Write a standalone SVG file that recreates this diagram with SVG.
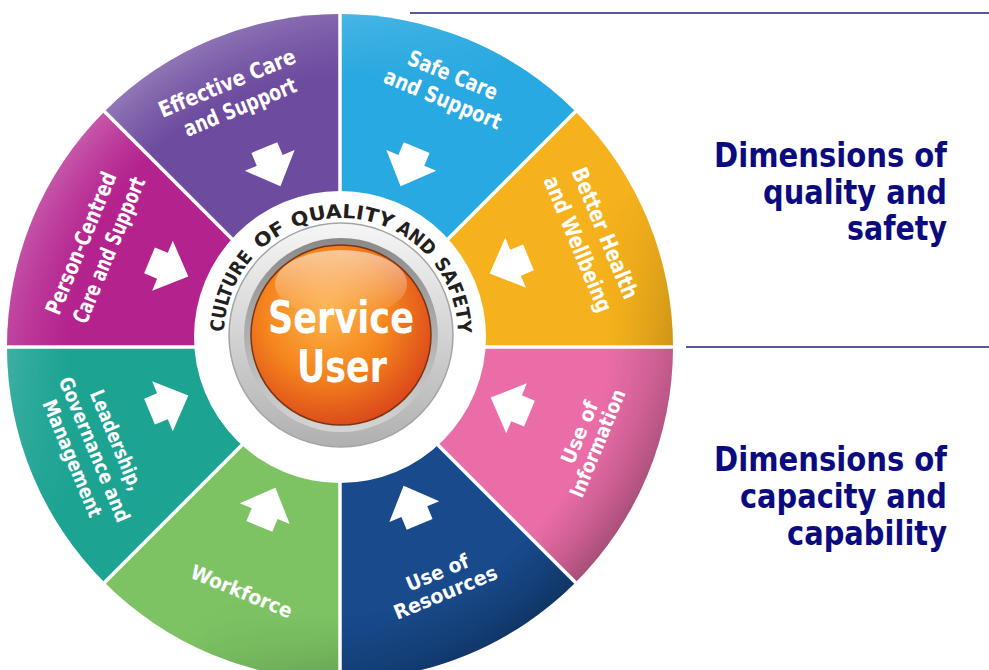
<svg xmlns="http://www.w3.org/2000/svg" xmlns:xlink="http://www.w3.org/1999/xlink" width="989" height="670" viewBox="0 0 989 670">
<style>
.lbl{font-family:'DejaVu Sans Condensed','Liberation Sans Narrow','Liberation Sans',sans-serif;font-stretch:condensed;font-weight:bold;fill:#ffffff;text-anchor:middle}
.top{font-size:22px}
.bot{font-size:20px}
.cul{font-family:'DejaVu Sans Condensed','Liberation Sans Narrow','Liberation Sans',sans-serif;font-stretch:condensed;font-weight:bold;font-size:19px;fill:#231F20}
.side{font-family:'DejaVu Sans','Verdana',sans-serif;font-weight:bold;font-size:33px;fill:#0B0B80;text-anchor:end}
.rule{stroke:#1F1F75;stroke-width:1.5}
.div{stroke:#ffffff;stroke-width:3.5}
.arr{fill:#ffffff}
</style>
<defs>
<path id="arrow" d="M-14,-20 L14,-20 L14,-6 L27,-6 L0,22 L-27,-6 L-14,-6 Z"/>
<linearGradient id="rimLD" x1="0" y1="0" x2="1" y2="1">
<stop offset="0" stop-color="#ffffff" stop-opacity="0.38"/>
<stop offset="0.42" stop-color="#ffffff" stop-opacity="0"/>
<stop offset="0.6" stop-color="#000000" stop-opacity="0"/>
<stop offset="1" stop-color="#000000" stop-opacity="0.45"/>
</linearGradient>
<radialGradient id="rimFade" cx="0.5" cy="0.5" r="0.5">
<stop offset="0.8" stop-color="#000000"/>
<stop offset="1" stop-color="#ffffff"/>
</radialGradient>
<mask id="rimMask"><circle cx="340" cy="347" r="334" fill="url(#rimFade)"/></mask>
<linearGradient id="silver" x1="0" y1="0" x2="0" y2="1">
<stop offset="0" stop-color="#f6f6f6"/>
<stop offset="1" stop-color="#b0b0b0"/>
</linearGradient>
<linearGradient id="silver2" x1="0" y1="0" x2="0" y2="1">
<stop offset="0" stop-color="#8a8a8a"/>
<stop offset="1" stop-color="#d4d4d4"/>
</linearGradient>
<radialGradient id="ball" cx="0.42" cy="0.38" r="0.68">
<stop offset="0" stop-color="#FDB24A"/>
<stop offset="0.5" stop-color="#F5861E"/>
<stop offset="1" stop-color="#D8401A"/>
</radialGradient>
<linearGradient id="gloss" x1="0" y1="0" x2="0" y2="1">
<stop offset="0" stop-color="#ffffff" stop-opacity="0.55"/>
<stop offset="1" stop-color="#ffffff" stop-opacity="0"/>
</linearGradient>
<path id="culturePath" d="M224,335 A117,117 0 0 1 458,335"/>
</defs>

<g id="wheel">
<g id="seg-effective">
<path d="M340,347 L104.5,111.5 A333,333 0 0 1 340,14 Z" fill="#6D4B9F"/>
</g>
<g id="seg-safe">
<path d="M340,347 L340,14 A333,333 0 0 1 575.5,111.5 Z" fill="#29A9E1"/>
</g>
<g id="seg-better">
<path d="M340,347 L575.5,111.5 A333,333 0 0 1 673,347 Z" fill="#F6B21C"/>
</g>
<g id="seg-information">
<path d="M340,347 L673,347 A333,333 0 0 1 575.5,582.5 Z" fill="#EA6DA8"/>
</g>
<g id="seg-resources">
<path d="M340,347 L575.5,582.5 A333,333 0 0 1 340,680 Z" fill="#184A8C"/>
</g>
<g id="seg-workforce">
<path d="M340,347 L340,680 A333,333 0 0 1 104.5,582.5 Z" fill="#7DC364"/>
</g>
<g id="seg-leadership">
<path d="M340,347 L104.5,582.5 A333,333 0 0 1 7,347 Z" fill="#1CA392"/>
</g>
<g id="seg-person">
<path d="M340,347 L7,347 A333,333 0 0 1 104.5,111.5 Z" fill="#B4228E"/>
</g>
<circle cx="340" cy="347" r="333" fill="url(#rimLD)" mask="url(#rimMask)"/>
<g id="dividers">
<line class="div" x1="340" y1="347" x2="340" y2="10"/>
<line class="div" x1="340" y1="347" x2="578" y2="109"/>
<line class="div" x1="340" y1="347" x2="676" y2="347"/>
<line class="div" x1="340" y1="347" x2="578" y2="585"/>
<line class="div" x1="340" y1="347" x2="340" y2="684"/>
<line class="div" x1="340" y1="347" x2="102" y2="585"/>
<line class="div" x1="340" y1="347" x2="4" y2="347"/>
<line class="div" x1="340" y1="347" x2="102" y2="109"/>
</g>
<circle cx="340" cy="337" r="146" fill="#ffffff"/>
</g>

<g id="labels">
<g id="label-effective">
<text class="lbl top" transform="translate(230,90) rotate(-22.5)" textLength="146" lengthAdjust="spacingAndGlyphs">Effective Care</text>
<text class="lbl top" transform="translate(243,114) rotate(-22.5)" textLength="120" lengthAdjust="spacingAndGlyphs">and Support</text>
</g>
<g id="label-safe">
<text class="lbl top" transform="translate(450,82) rotate(22.5)" textLength="95" lengthAdjust="spacingAndGlyphs">Safe Care</text>
<text class="lbl top" transform="translate(440,106) rotate(22.5)" textLength="125" lengthAdjust="spacingAndGlyphs">and Support</text>
</g>
<g id="label-better">
<text class="lbl top" transform="translate(598,236) rotate(67.5)" textLength="140" lengthAdjust="spacingAndGlyphs">Better Health</text>
<text class="lbl top" transform="translate(571,247) rotate(67.5)" textLength="145" lengthAdjust="spacingAndGlyphs">and Wellbeing</text>
</g>
<g id="label-information">
<text class="lbl bot" transform="translate(586,435) rotate(-67.5)" textLength="66" lengthAdjust="spacingAndGlyphs">Use of</text>
<text class="lbl bot" transform="translate(604,446) rotate(-67.5)" textLength="115" lengthAdjust="spacingAndGlyphs">Information</text>
</g>
<g id="label-resources">
<text class="lbl bot" transform="translate(440,579) rotate(-22.5)" textLength="66" lengthAdjust="spacingAndGlyphs">Use of</text>
<text class="lbl bot" transform="translate(448,599) rotate(-22.5)" textLength="110" lengthAdjust="spacingAndGlyphs">Resources</text>
</g>
<g id="label-workforce">
<text class="lbl bot" transform="translate(239,598) rotate(22.5)" textLength="108" lengthAdjust="spacingAndGlyphs">Workforce</text>
</g>
<g id="label-leadership">
<text class="lbl bot" transform="translate(110,443) rotate(67.5)" textLength="107" lengthAdjust="spacingAndGlyphs">Leadership,</text>
<text class="lbl bot" transform="translate(88,452) rotate(67.5)" textLength="155" lengthAdjust="spacingAndGlyphs">Governance and</text>
<text class="lbl bot" transform="translate(66,461) rotate(67.5)" textLength="125" lengthAdjust="spacingAndGlyphs">Management</text>
</g>
<g id="label-person">
<text class="lbl top" transform="translate(88,246) rotate(-67.5)" textLength="152" lengthAdjust="spacingAndGlyphs">Person-Centred</text>
<text class="lbl top" transform="translate(116,253) rotate(-67.5)" textLength="156" lengthAdjust="spacingAndGlyphs">Care and Support</text>
</g>
</g>

<g id="connectors">
<use href="#arrow" class="arr" transform="translate(272,166) rotate(-22.5)"/>
<use href="#arrow" class="arr" transform="translate(409,166) rotate(22.5)"/>
<use href="#arrow" class="arr" transform="translate(510,265) rotate(67.5)"/>
<use href="#arrow" class="arr" transform="translate(511,406) rotate(112.5)"/>
<use href="#arrow" class="arr" transform="translate(412,506) rotate(157.5)"/>
<use href="#arrow" class="arr" transform="translate(267,508) rotate(202.5)"/>
<use href="#arrow" class="arr" transform="translate(168,404) rotate(247.5)"/>
<use href="#arrow" class="arr" transform="translate(168,268) rotate(292.5)"/>
</g>

<g id="center">
<g id="culture-ring">
<text class="cul"><textPath href="#culturePath" startOffset="3" textLength="82" lengthAdjust="spacingAndGlyphs">CULTURE</textPath></text>
<text class="cul"><textPath href="#culturePath" startOffset="95" textLength="32" lengthAdjust="spacingAndGlyphs">OF</textPath></text>
<text class="cul"><textPath href="#culturePath" startOffset="135" textLength="100" lengthAdjust="spacingAndGlyphs">QUALITY</textPath></text>
<text class="cul"><textPath href="#culturePath" startOffset="240" textLength="42" lengthAdjust="spacingAndGlyphs">AND</textPath></text>
<text class="cul"><textPath href="#culturePath" startOffset="290" textLength="76" lengthAdjust="spacingAndGlyphs">SAFETY</textPath></text>
</g>
<circle cx="341" cy="335" r="112" fill="url(#silver)" stroke="#a4a4a4" stroke-width="1.5"/>
<circle cx="341" cy="335" r="97" fill="url(#silver2)"/>
<circle cx="341" cy="335" r="90" fill="url(#ball)" stroke="#7a3412" stroke-width="1.5"/>
<ellipse cx="341" cy="284" rx="66" ry="34" fill="url(#gloss)"/>
<text class="lbl" font-size="45" x="341" y="333" textLength="146" lengthAdjust="spacingAndGlyphs">Service</text>
<text class="lbl" font-size="45" x="342" y="382" textLength="90" lengthAdjust="spacingAndGlyphs">User</text>
</g>

<g id="side">
<line class="rule" x1="410" y1="13" x2="989" y2="13"/>
<line class="rule" x1="686" y1="347" x2="989" y2="347"/>
<g id="quality-safety">
<text class="side" x="947" y="167" textLength="233" lengthAdjust="spacingAndGlyphs">Dimensions of</text>
<text class="side" x="947" y="204" textLength="184" lengthAdjust="spacingAndGlyphs">quality and</text>
<text class="side" x="947" y="240" textLength="100" lengthAdjust="spacingAndGlyphs">safety</text>
</g>
<g id="capacity-capability">
<text class="side" x="947" y="471" textLength="233" lengthAdjust="spacingAndGlyphs">Dimensions of</text>
<text class="side" x="947" y="508" textLength="207" lengthAdjust="spacingAndGlyphs">capacity and</text>
<text class="side" x="947" y="545" textLength="160" lengthAdjust="spacingAndGlyphs">capability</text>
</g>
</g>
</svg>
